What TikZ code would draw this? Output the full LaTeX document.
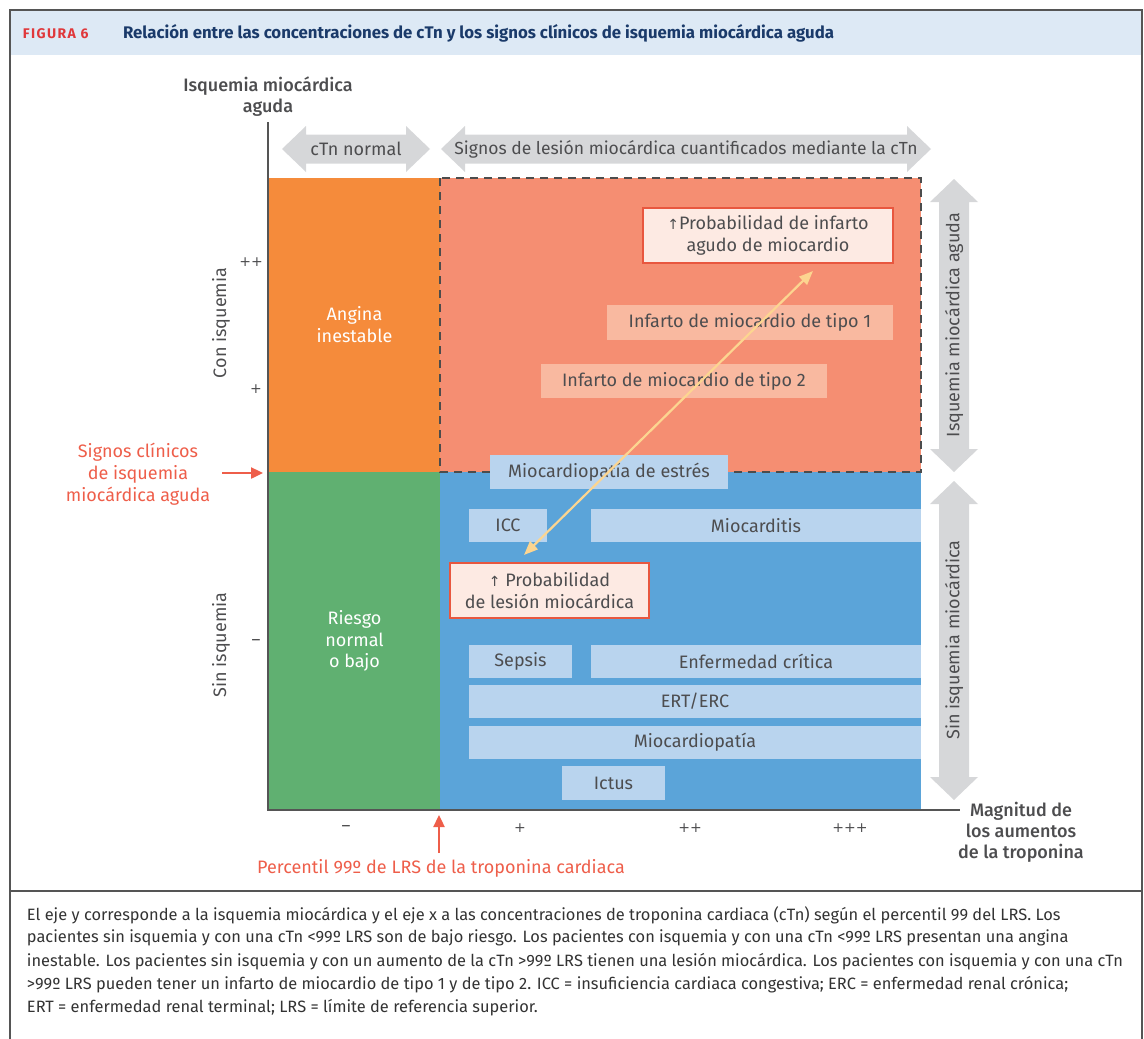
\documentclass[tikz,border=0pt]{standalone}
\usepackage{fontspec}
\setmainfont{Fira Sans}
\newfontfamily\medfont{Fira Sans Medium}
\newfontfamily\figfont[LetterSpace=10]{Fira Sans}
\newfontfamily\symf{DejaVu Sans}
\usetikzlibrary{arrows.meta}
\definecolor{orangeq}{HTML}{F58B3B}
\definecolor{greenq}{HTML}{60B071}
\definecolor{salmonq}{HTML}{F58E72}
\definecolor{blueq}{HTML}{5BA4D9}
\definecolor{lblue}{HTML}{B9D4EE}
\definecolor{lsalmon}{HTML}{F9B9A0}
\definecolor{pinkq}{HTML}{FDEAE3}
\definecolor{redq}{HTML}{E8573F}
\definecolor{redt}{HTML}{EE5E4A}
\definecolor{grayar}{HTML}{D6D7D9}
\definecolor{textg}{HTML}{4D4D4F}
\definecolor{capt}{HTML}{333333}
\definecolor{yellowq}{HTML}{FCD590}
\definecolor{headbg}{HTML}{DDE9F5}
\definecolor{navyq}{HTML}{1A3A6A}
\definecolor{figred}{HTML}{E0383B}
\definecolor{framec}{HTML}{555555}
\newcommand\fsz[2]{\fontsize{#1}{#2}\selectfont}
\newcommand\boxat[6]{\node[#1, anchor=north west, minimum width={#4-#2}, minimum height={#5-#3}] (#6) at (#2,#3)}
\newcommand\harrowshape[3]{%
\fill[grayar] (#1,#3) -- ({#1+24},{#3-23}) -- ({#1+24},{#3-14.5}) -- ({#2-24},{#3-14.5}) -- ({#2-24},{#3-23}) -- (#2,#3) -- ({#2-24},{#3+23}) -- ({#2-24},{#3+14.5}) -- ({#1+24},{#3+14.5}) -- ({#1+24},{#3+23}) -- cycle;}
\newcommand\varrowshape[3]{%
\fill[grayar] (#3,#1) -- ({#3+24},{#1+23}) -- ({#3+15},{#1+23}) -- ({#3+15},{#2-23}) -- ({#3+24},{#2-23}) -- (#3,#2) -- ({#3-24},{#2-23}) -- ({#3-15},{#2-23}) -- ({#3-15},{#1+23}) -- ({#3-24},{#1+23}) -- cycle;}
\begin{document}
\begin{tikzpicture}[x=1pt,y=-1pt,
  every node/.style={inner sep=0pt,outer sep=0pt},
  region/.style={draw=none},
  lbox/.style={fill=lblue,text=textg,font=\fsz{18}{22}},
  sbox/.style={fill=lsalmon,text=textg,font=\fsz{18}{22}},
  pbox/.style={fill=pinkq,draw=redq,line width=1.8pt,text=textg,font=\fsz{18}{22},align=center},
  lbl/.style={text=textg,font=\fsz{18}{22}},
  tick/.style={text=textg,font=\symf\fsz{14}{16}},
  dtick/.style={text=textg,font=\fsz{17}{20}},
  redlbl/.style={text=redt,font=\fsz{18}{22},align=center},
  redarrow/.style={draw=redt,line width=2.4pt,-{Triangle[length=12pt,width=11pt]}},
  yarrow/.style={draw=yellowq,line width=2.2pt,{Triangle[length=14pt,width=11pt]}-{Triangle[length=14pt,width=11pt]}},
  axis/.style={draw=framec,line width=2pt},
  capline/.style={anchor=west,text=capt,font=\fsz{16.4}{20}}]
\useasboundingbox (0,0) rectangle (1144,1039);
% frame
\fill[headbg] (10,10) rectangle (1142,55);
\draw[framec,line width=1.5pt] (10,1039) -- (10,10) -- (1142,10) -- (1142,1039);
\draw[framec,line width=1.5pt] (10,891) -- (1142,891);
\node[anchor=base west,text=figred,font=\figfont\bfseries\fsz{14}{16}] (fig) at (23,38) {FIGURA 6};
\node[anchor=base west,text=navyq,font=\bfseries\fsz{16.8}{18}] (title) at (123,38) {Relación entre las concentraciones de cTn y los signos clínicos de isquemia miocárdica aguda};
% regions
\boxat{region,fill=orangeq,text=white,font=\fsz{18}{22},align=center}{269}{178}{440}{472}{ang} {Angina\\inestable};
\boxat{region,fill=greenq,text=white,font=\fsz{18}{21.5},align=center}{269}{472}{440}{810}{rie} {Riesgo\\normal\\o bajo};
\boxat{region,fill=salmonq}{440}{178}{921}{472}{sal} {};
\boxat{region,fill=blueq}{440}{472}{921}{810}{blu} {};
\draw[draw=framec!90!black,line width=2.4pt,dash pattern=on 8pt off 6pt] (sal.north west) rectangle (sal.south east);
% axes
\coordinate (ytop) at (268,122);
\coordinate (orig) at (268,810);
\coordinate (xend) at (960,810);
\draw[axis] (ytop) -- (orig) -- (xend);
% top arrows
\harrowshape{282}{430}{149}
\node[lbl] (ctn) at (356,149) {cTn normal};
\harrowshape{441}{931}{149}
\node[lbl,font=\fsz{17.5}{22}] (sig) at (686,149) {Signos de lesión miocárdica cuantificados mediante la cTn};
% right arrows
\varrowshape{179}{472}{954}
\node[lbl,rotate=90] (isq) at (954,325) {Isquemia miocárdica aguda};
\varrowshape{481}{800}{954}
\node[lbl,rotate=90] (sinq) at (954,640) {Sin isquemia miocárdica};
% boxes
\boxat{pbox}{643}{208}{893}{263}{pinf} {{\symf\fsz{14}{22}↑}Probabilidad de infarto\\agudo de miocardio};
\boxat{sbox}{607}{305}{893}{340}{t1} {Infarto de miocardio de tipo 1};
\boxat{sbox}{541}{364}{827}{398}{t2} {Infarto de miocardio de tipo 2};
\boxat{lbox}{490}{455}{728}{489}{est} {Miocardiopatía de estrés};
\boxat{lbox}{469}{509}{547}{542}{icc} {ICC};
\boxat{lbox}{591}{509}{921}{542}{mioc} {Miocarditis};
\boxat{pbox}{450}{563}{649}{618}{ples} {{\symf\fsz{14}{22}↑} Probabilidad\\de lesión miocárdica};
\boxat{lbox}{469}{645}{572}{678}{sep} {Sepsis};
\boxat{lbox}{591}{645}{921}{678}{enf} {Enfermedad crítica};
\boxat{lbox}{469}{685}{921}{718}{ert} {ERT/ERC};
\boxat{lbox}{469}{726}{921}{759}{miop} {Miocardiopatía};
\boxat{lbox}{562}{766}{665}{800}{ict} {Ictus};
% yellow arrow
\coordinate (ya) at (524,555);
\coordinate (yb) at (813,271);
\draw[yarrow] (ya) -- (yb);
% left labels
\node[lbl,font=\medfont\fsz{18}{21},align=center] (ylab) at (268,97) {Isquemia miocárdica\\aguda};
\node[lbl,rotate=90] (con) at (221,323) {Con isquemia};
\node[lbl,rotate=90] (sin) at (221,645) {Sin isquemia};
\node[tick] (tpp) at (251,262) {++};
\node[tick] (tp) at (256,389) {+};
\node[dtick] (tm) at (256,642) {–};
\node[redlbl] (sclin) at (138,474) {Signos clínicos\\de isquemia\\miocárdica aguda};
\coordinate (sa) at (222,473);
\coordinate (sb) at (263,473);
\draw[redarrow] (sa) -- (sb);
% bottom labels
\node[dtick] (xm) at (346,828) {–};
\node[tick] (xp) at (520,828) {+};
\node[tick] (xpp) at (690,828) {++};
\node[tick] (xppp) at (850,828) {+++};
\coordinate (pa) at (439,853);
\coordinate (pb) at (439,815);
\draw[redarrow] (pa) -- (pb);
\node[redlbl] (pct) at (441,868) {Percentil 99º de LRS de la troponina cardiaca};
\node[lbl,font=\medfont\fsz{18}{21},align=center] (mag) at (1021,832) {Magnitud de\\los aumentos\\de la troponina};
% caption
\node[capline] (c1) at (27,915) {El eje y corresponde a la isquemia miocárdica y el eje x a las concentraciones de troponina cardiaca (cTn) según el percentil 99 del LRS. Los};
\node[capline] (c2) at (27,938) {pacientes sin isquemia y con una cTn <99º LRS son de bajo riesgo. Los pacientes con isquemia y con una cTn <99º LRS presentan una angina};
\node[capline] (c3) at (27,962) {inestable. Los pacientes sin isquemia y con un aumento de la cTn >99º LRS tienen una lesión miocárdica. Los pacientes con isquemia y con una cTn};
\node[capline] (c4) at (27,985) {>99º LRS pueden tener un infarto de miocardio de tipo 1 y de tipo 2. ICC = insuficiencia cardiaca congestiva; ERC = enfermedad renal crónica;};
\node[capline] (c5) at (27,1008) {ERT = enfermedad renal terminal; LRS = límite de referencia superior.};
\end{tikzpicture}
\end{document}
